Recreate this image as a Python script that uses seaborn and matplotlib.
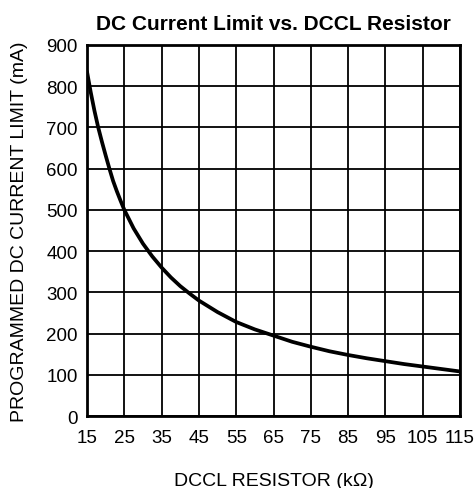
import matplotlib
matplotlib.use("Agg")
import matplotlib.pyplot as plt
import seaborn as sns
import pandas as pd

resistor_kohm = [15, 16, 17, 18, 19, 20, 21, 22, 23, 24, 25, 27.5, 30, 32.5, 35, 37.5, 40, 42.5,
                 45, 50, 55, 60, 65, 70, 75, 80, 85, 90, 95, 100, 105, 110, 115]
current_ma = [835, 785, 740, 700, 665, 632, 600, 570, 545, 522, 500, 455, 418, 387, 360, 336, 315, 297,
              280, 252, 228, 210, 195, 180, 168, 157, 148, 140, 133, 126, 120, 114, 108]
x_ticks = [15, 25, 35, 45, 55, 65, 75, 85, 95, 105, 115]
y_ticks = [0, 100, 200, 300, 400, 500, 600, 700, 800, 900]

sns.set_theme(style="white")
plt.rcParams['font.family'] = ['Liberation Sans', 'DejaVu Sans']
plt.rcParams['text.color'] = 'black'
plt.rcParams['axes.labelcolor'] = 'black'

df = pd.DataFrame({"R": resistor_kohm, "I": current_ma})

fig = plt.figure(figsize=(4.77, 4.89), dpi=100)
ax = fig.add_axes([0.1824, 0.1472, 0.782, 0.759])
sns.lineplot(data=df, x="R", y="I", ax=ax, color="black", linewidth=2.7)

ax.set_xlim(15, 115)
ax.set_ylim(0, 900)
ax.set_xticks(x_ticks)
ax.set_yticks(y_ticks)
ax.grid(True, color="black", linewidth=1.3)
for s in ax.spines.values():
    s.set_color("black")
    s.set_linewidth(2)
ax.tick_params(axis="x", length=0, pad=9, labelsize=13.5, colors="black")
ax.tick_params(axis="y", length=0, pad=6.5, labelsize=13.5, colors="black")
ax.set_xlabel("DCCL RESISTOR (kΩ)", fontsize=14, labelpad=19, color="black")
ax.set_ylabel("PROGRAMMED DC CURRENT LIMIT (mA)", fontsize=14, labelpad=13, color="black")
ax.set_title("DC Current Limit vs. DCCL Resistor", fontsize=15, fontweight="bold", pad=11.5, color="black")

fig.savefig("out.png", dpi=100)
